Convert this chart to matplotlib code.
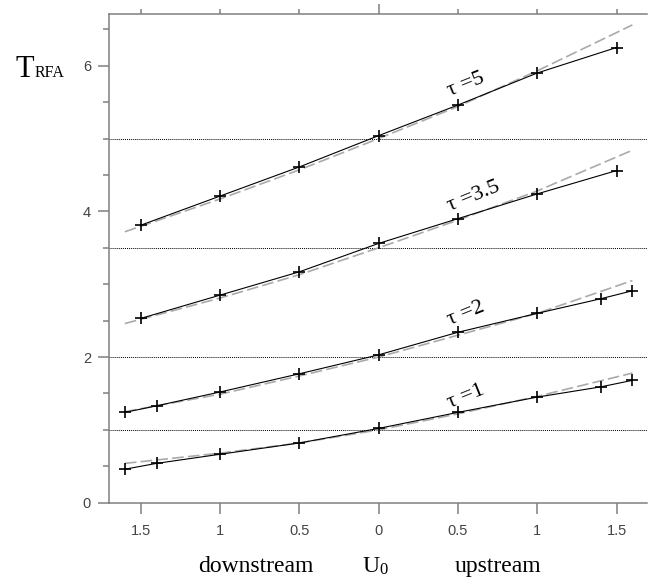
"""Relaxation time T_RFA against the flow velocity U0 for several tau values."""

import matplotlib

matplotlib.use("Agg")
import matplotlib.pyplot as plt

# simulated points (black line, + markers)
X_WIDE = [-1.6, -1.4, -1.0, -0.5, 0.0, 0.5, 1.0, 1.4, 1.6]
X_NARROW = [-1.5, -1.0, -0.5, 0.0, 0.5, 1.0, 1.5]

T_TAU1 = [0.46, 0.54, 0.665, 0.82, 1.02, 1.24, 1.45, 1.59, 1.68]
T_TAU2 = [1.24, 1.33, 1.52, 1.77, 2.03, 2.34, 2.60, 2.80, 2.91]
T_TAU35 = [2.53, 2.85, 3.17, 3.56, 3.90, 4.24, 4.56]
T_TAU5 = [3.81, 4.21, 4.61, 5.04, 5.46, 5.90, 6.25]

# approximation (grey dashed)
X_FIT = [-1.6, -1.0, -0.5, 0.0, 0.5, 1.0, 1.6]
FIT_TAU1 = [0.54, 0.68, 0.82, 1.00, 1.22, 1.46, 1.78]
FIT_TAU2 = [1.25, 1.49, 1.74, 2.00, 2.30, 2.60, 3.05]
FIT_TAU35 = [2.46, 2.81, 3.13, 3.50, 3.88, 4.28, 4.84]
FIT_TAU5 = [3.72, 4.17, 4.57, 5.00, 5.44, 5.93, 6.56]

TAU_VALUES = [1.0, 2.0, 3.5, 5.0]
TAU_LABELS = ["\u03c4 =1", "\u03c4 =2", "\u03c4 =3.5", "\u03c4 =5"]
LABEL_X = [0.55, 0.55, 0.60, 0.55]
LABEL_Y = [1.46, 2.59, 4.20, 5.74]

X_TICKS = [-1.5, -1.0, -0.5, 0.0, 0.5, 1.0, 1.5]
X_TICK_LABELS = ["1.5", "1", "0.5", "0", "0.5", "1", "1.5"]
Y_TICKS = [0, 2, 4, 6]

SERIF = "Liberation Serif"
SANS = "Liberation Sans"
SPINE_COLOR = "#808080"
TICK_TEXT = "#444444"

W, H = 648, 584


def _fig_xy(px, py):
    return px / W, 1 - py / H


fig = plt.figure(figsize=(W / 100, H / 100), dpi=100)
ax = fig.add_axes([109 / W, 1 - 502.7 / H, 538 / W, (502.7 - 14) / H])

for tau in TAU_VALUES:
    ax.axhline(tau, color="black", linestyle=(0, (1, 1)), linewidth=0.7, zorder=1)

series = [
    (X_WIDE, T_TAU1, FIT_TAU1),
    (X_WIDE, T_TAU2, FIT_TAU2),
    (X_NARROW, T_TAU35, FIT_TAU35),
    (X_NARROW, T_TAU5, FIT_TAU5),
]
for xs, ys, fit in series:
    ax.plot(X_FIT, fit, color="#aaaaaa", linewidth=1.2, dashes=(7, 2.5), zorder=2)
    ax.plot(xs, ys, color="black", linewidth=0.8, marker="+", markersize=9,
            markeredgewidth=1.2, zorder=3)

for lx, ly, text in zip(LABEL_X, LABEL_Y, TAU_LABELS):
    ax.text(lx, ly, text, family=SERIF, fontsize=16, rotation=22,
            rotation_mode="anchor", ha="center", va="center")

ax.set_xlim(-1.70, 1.692)
ax.set_ylim(0, 6.71)

ax.set_xticks(X_TICKS)
ax.set_xticklabels(X_TICK_LABELS)
ax.set_yticks(Y_TICKS)
ax.set_yticks([0.5, 1, 1.5, 2.5, 3, 3.5, 4.5, 5, 5.5, 6.5], minor=True)
ax.tick_params(axis="both", which="major", length=8, width=1.1,
               color=SPINE_COLOR, labelcolor=TICK_TEXT, labelsize=10.5)
ax.tick_params(axis="y", which="minor", length=4.5, width=1.1, color=SPINE_COLOR)
ax.tick_params(axis="x", which="major", pad=7)
ax.tick_params(axis="y", which="major", pad=5)
for label in ax.get_xticklabels() + ax.get_yticklabels():
    label.set_family(SANS)

# short ticks along the top edge, longer one at zero
top = ax.secondary_xaxis("top")
top.set_xticks([-1.5, -1.0, -0.5, 0.5, 1.0, 1.5])
top.set_xticks([0.0], minor=True)
top.tick_params(which="major", length=3.5, width=1.1, color=SPINE_COLOR,
                labeltop=False)
top.tick_params(which="minor", length=7.5, width=1.1, color=SPINE_COLOR)
top.spines["top"].set_visible(False)

for side in ("left", "bottom", "top"):
    ax.spines[side].set_color(SPINE_COLOR)
    ax.spines[side].set_linewidth(1.1)
ax.spines["right"].set_visible(False)

fig.text(*_fig_xy(16, 77), "T", family=SERIF, fontsize=22, va="baseline")
fig.text(*_fig_xy(35, 77), "RFA", family=SERIF, fontsize=11.5, va="baseline")

fig.text(*_fig_xy(256, 572), "downstream", family=SERIF, fontsize=17,
         ha="center", va="baseline")
fig.text(*_fig_xy(362, 572.5), "U", family=SERIF, fontsize=17, va="baseline")
fig.text(*_fig_xy(379, 573.5), "0", family=SERIF, fontsize=12, va="baseline")
fig.text(*_fig_xy(498, 572), "upstream", family=SERIF, fontsize=17,
         ha="center", va="baseline")

fig.savefig("out.png", dpi=100)
